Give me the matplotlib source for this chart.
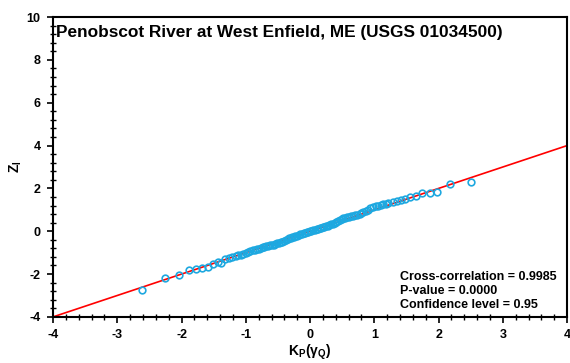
import matplotlib
matplotlib.use("Agg")
import matplotlib.pyplot as plt
from matplotlib.ticker import MultipleLocator

plt.rcParams["font.family"] = ["Liberation Sans", "DejaVu Sans"]
plt.rcParams["font.weight"] = "bold"
plt.rcParams["axes.unicode_minus"] = False
plt.rcParams["mathtext.fontset"] = "custom"
plt.rcParams["mathtext.rm"] = "Liberation Sans:bold"
plt.rcParams["mathtext.it"] = "Liberation Sans:bold"
plt.rcParams["mathtext.bf"] = "Liberation Sans:bold"
plt.rcParams["mathtext.sf"] = "Liberation Sans:bold"

# frequency factor K_P(gamma_Q) vs standardized flows Z_I
kp = [
    -2.61, -2.26, -2.04, -1.89, -1.78, -1.68, -1.59, -1.51, -1.44, -1.39, -1.32,
    -1.26, -1.21, -1.16, -1.12, -1.08, -1.04, -1.00, -0.96, -0.93, -0.89,
    -0.86, -0.83, -0.80, -0.77, -0.74, -0.71, -0.68, -0.65, -0.62, -0.59,
    -0.56, -0.54, -0.51, -0.48, -0.46, -0.43, -0.40, -0.38, -0.35, -0.33,
    -0.30, -0.28, -0.25, -0.23, -0.20, -0.18, -0.15, -0.13, -0.10, -0.08,
    -0.05, -0.03, 0.00, 0.02, 0.05, 0.07, 0.10, 0.12, 0.15, 0.17,
    0.20, 0.22, 0.25, 0.28, 0.30, 0.33, 0.35, 0.38, 0.41, 0.43,
    0.46, 0.49, 0.52, 0.55, 0.58, 0.61, 0.64, 0.67, 0.70, 0.73,
    0.77, 0.80, 0.83, 0.87, 0.90, 0.94, 0.98, 1.02, 1.06, 1.10, 1.14, 1.18,
    1.22, 1.29, 1.35, 1.41, 1.48, 1.56, 1.65, 1.74, 1.86, 1.98, 2.17, 2.50,
]
zi = [
    -2.74, -2.19, -2.05, -1.82, -1.77, -1.70, -1.65, -1.54, -1.45, -1.49, -1.31,
    -1.24, -1.19, -1.16, -1.13, -1.10, -1.06, -1.00, -0.95, -0.91, -0.88,
    -0.86, -0.84, -0.81, -0.78, -0.75, -0.73, -0.71, -0.69, -0.66, -0.64,
    -0.62, -0.60, -0.57, -0.53, -0.51, -0.49, -0.45, -0.42, -0.37, -0.33,
    -0.30, -0.28, -0.26, -0.24, -0.21, -0.19, -0.15, -0.12, -0.10, -0.08,
    -0.05, -0.03, 0.00, 0.02, 0.04, 0.06, 0.09, 0.11, 0.13, 0.15,
    0.18, 0.20, 0.23, 0.26, 0.28, 0.32, 0.35, 0.39, 0.43, 0.47,
    0.52, 0.57, 0.61, 0.63, 0.66, 0.68, 0.70, 0.72, 0.74, 0.76,
    0.80, 0.85, 0.90, 0.96, 1.01, 1.07, 1.12, 1.16, 1.20, 1.24, 1.26, 1.29,
    1.33, 1.37, 1.40, 1.45, 1.52, 1.59, 1.66, 1.77, 1.80, 1.82, 2.22, 2.29,
]
line_x = [-4, 4]
line_y = [-4, 4]
xticks = [-4, -3, -2, -1, 0, 1, 2, 3, 4]
yticks = [-4, -2, 0, 2, 4, 6, 8, 10]

title = "Penobscot River at West Enfield, ME (USGS 01034500)"
stats = ["Cross-correlation = 0.9985", "P-value = 0.0000", "Confidence level = 0.95"]

fig = plt.figure(figsize=(5.70, 3.63), dpi=100)
ax = fig.add_axes([0.093, 0.127, 0.902, 0.826])

ax.plot(line_x, line_y, color="#ff0000", lw=1.2, zorder=2)
ax.plot(kp, zi, ls="none", marker="o", ms=4.8, mfc="none", mec="#1ea8e0",
        mew=1.2, zorder=3)

ax.set_xlim(-4, 4)
ax.set_ylim(-4, 10)
ax.set_xticks(xticks, [str(v) for v in xticks], fontweight="bold", fontsize=9)
ax.set_yticks(yticks, [str(v) for v in yticks], fontweight="bold", fontsize=9)
ax.xaxis.set_minor_locator(MultipleLocator(0.2))
ax.yaxis.set_minor_locator(MultipleLocator(0.4))
ax.tick_params(which="major", direction="out", length=4, width=1.2, pad=5)
ax.tick_params(which="minor", direction="inout", length=4, width=1.0)
for s in ax.spines.values():
    s.set_linewidth(1.5)

ax.set_xlabel(r"K$_\mathrm{P}$($\mathrm{\gamma_Q}$)", fontsize=10,
              fontweight="bold", labelpad=1)
ax.set_ylabel(r"Z$_\mathrm{I}$", fontsize=10, fontweight="bold", labelpad=2)

ax.text(0.006, 0.975, title, transform=ax.transAxes, ha="left", va="top",
        fontsize=12.4, fontweight="bold")
ax.text(0.675, 0.152, "\n".join(stats), transform=ax.transAxes, ha="left",
        va="top", fontsize=9, fontweight="bold", linespacing=1.2)

fig.savefig("out.png", dpi=100)
